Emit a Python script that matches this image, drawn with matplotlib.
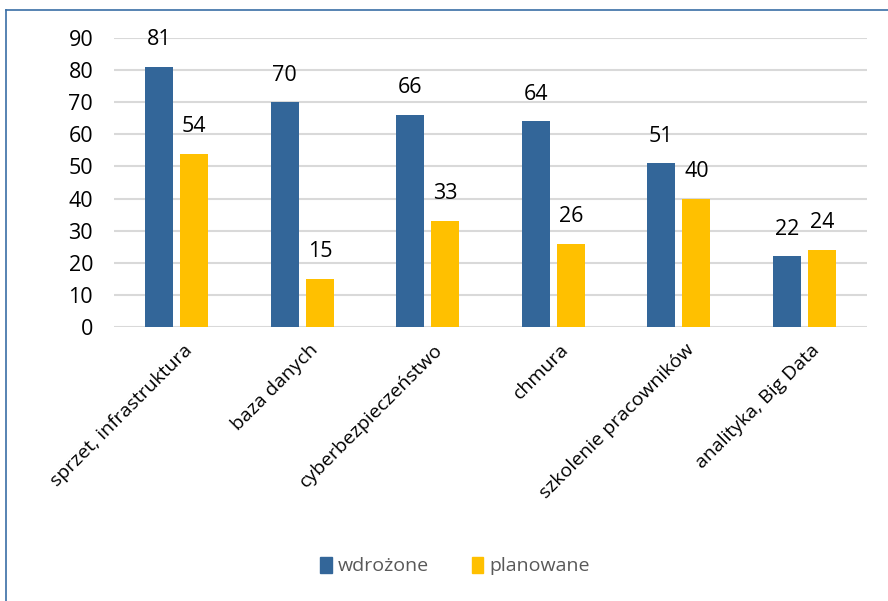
import matplotlib.pyplot as plt
import numpy as np
from matplotlib.patches import Rectangle
from matplotlib.lines import Line2D

# Data
categories = ['sprzet, infrastruktura', 'baza danych', 'cyberbezpieczeństwo',
              'chmura', 'szkolenie pracowników', 'analityka, Big Data']
wdrozone = [81, 70, 66, 64, 51, 22]
planowane = [54, 15, 33, 26, 40, 24]
series_names = ['wdrożone', 'planowane']

blue = '#336699'
yellow = '#FFC000'
plt.rcParams['font.family'] = ['Open Sans', 'DejaVu Sans']

fig = plt.figure(figsize=(8.88, 6.01), dpi=100)
ax = fig.add_axes([114 / 888, 1 - 327 / 601, (867 - 114) / 888, (327 - 38) / 601])

x = np.arange(len(categories))
w = 0.223
b1 = ax.bar(x - 0.14, wdrozone, w, color=blue, zorder=3)
b2 = ax.bar(x + 0.14, planowane, w, color=yellow, zorder=3)

for bars, vals in ((b1, wdrozone), (b2, planowane)):
    for r, v in zip(bars, vals):
        ax.annotate(str(v), (r.get_x() + r.get_width() / 2, v), xytext=(0, 12),
                    textcoords='offset points', ha='center', va='bottom', fontsize=15.5)

ax.set_xlim(-0.5, len(categories) - 0.5)
ax.set_ylim(0, 90)
ax.set_yticks(range(0, 91, 10))
ax.yaxis.grid(True, color='#d9d9d9', linewidth=1.5, zorder=0)
for s in ax.spines.values():
    s.set_visible(False)
ax.tick_params(axis='y', length=0, pad=15, labelsize=15.5)
ax.tick_params(axis='x', length=0, pad=10, labelsize=14)
ax.set_xticks(x + 0.05)
ax.set_xticklabels(categories, rotation=45, ha='right', rotation_mode='anchor')

# legend
handles = [Rectangle((0, 0), 1, 1, color=blue), Rectangle((0, 0), 1, 1, color=yellow)]
fig.legend(handles, series_names, loc='center', bbox_to_anchor=(455 / 888, 1 - 566 / 601),
           ncol=2, frameon=False, fontsize=14, handlelength=0.6, handleheight=0.9,
           handletextpad=0.3, columnspacing=2.2, labelcolor='#595959')

# border (top and left)
fig.add_artist(Line2D([6 / 888, 6 / 888], [0, 1 - 10 / 601], color='#3a6ea5', linewidth=1.2))
fig.add_artist(Line2D([6 / 888, 1], [1 - 10 / 601, 1 - 10 / 601], color='#3a6ea5', linewidth=1.2))

fig.savefig('out.png', dpi=100)
